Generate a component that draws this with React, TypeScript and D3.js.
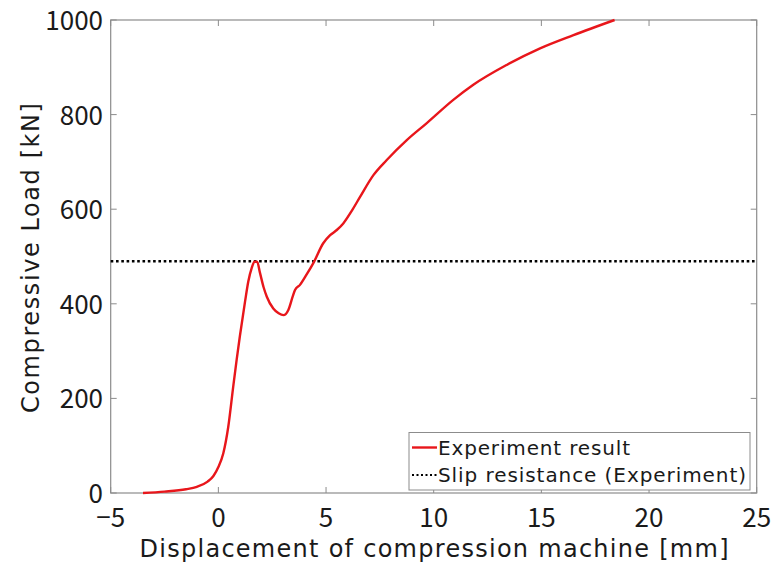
import React from "react";
import * as d3 from "d3";

// Load–displacement record of the compression test
const displacement = [
  -3.5, -2.5, -1.5, -1.0, -0.5, -0.23, 0, 0.23, 0.46, 0.69, 0.85, 1.0, 1.24, 1.39,
  1.55, 1.68, 1.8, 1.93, 2.1, 2.25, 2.55, 2.8, 3.02, 3.25, 3.45, 3.56, 3.79, 4.1,
  4.41, 4.87, 5.19, 5.5, 5.8, 6.2, 6.58, 7.2, 7.82, 8.75, 9.68, 10.91, 11.84,
  13.39, 14.94, 16.49, 18.4,
];
const load = [
  0, 3, 8, 13, 24, 36, 55, 84, 140, 225, 282, 332, 405, 447,
  476, 489, 489, 466, 435, 415, 390, 380, 376, 387, 415, 429, 440, 462,
  486, 528, 545, 556, 570, 597, 626, 672, 704, 746, 782, 831, 863,
  905, 940, 968, 1000,
];
const slipResistance = 490;

const xTicks = [-5, 0, 5, 10, 15, 20, 25];
const yTicks = [0, 200, 400, 600, 800, 1000];

const legendLabels = ["Experiment result", "Slip resistance (Experiment)"];
const xTitle = "Displacement of compression machine [mm]";
const yTitle = "Compressive Load [kN]";

const W = 775;
const H = 568;
const frame = { left: 110.7, right: 756.7, top: 20, bottom: 493 };
const TICK_FONT = "'Noto Sans CJK JP', 'Noto Sans', sans-serif";
const TEXT_FONT = "'DejaVu Sans', 'Noto Sans', sans-serif";
const AXIS = "#8c8c8c";
const INK = "#1a1a1a";
const RED = "#e8161b";

export default function App() {
  const x = d3.scaleLinear().domain([-5, 25]).range([frame.left, frame.right]);
  const y = d3.scaleLinear().domain([0, 1000]).range([frame.bottom, frame.top]);

  const pts = displacement.map((d, i) => [d, load[i]] as [number, number]);
  const line = d3
    .line<[number, number]>()
    .x((d) => x(d[0]))
    .y((d) => y(d[1]))
    .curve(d3.curveMonotoneX);

  const tickLen = 6;
  const lx = 409;
  const ly = 432.5;

  return (
    <svg
      width={W}
      height={H}
      style={{ position: "absolute", left: 0, top: 0, background: "#fff" }}
    >
      <rect x={0} y={0} width={W} height={H} fill="#fff" />

      {/* Ticks on all four sides, pointing inward */}
      {xTicks.map((t) => (
        <g key={"xt" + t}>
          <line x1={x(t)} x2={x(t)} y1={frame.bottom} y2={frame.bottom - tickLen} stroke={AXIS} />
          <line x1={x(t)} x2={x(t)} y1={frame.top} y2={frame.top + tickLen} stroke={AXIS} />
          <text
            x={x(t)}
            y={527}
            textAnchor="middle"
            fontFamily={TICK_FONT}
            fontSize={26}
            fill={INK}
          >
            {t < 0 ? "\u2212" + Math.abs(t) : t}
          </text>
        </g>
      ))}
      {yTicks.map((t) => (
        <g key={"yt" + t}>
          <line x1={frame.left} x2={frame.left + tickLen} y1={y(t)} y2={y(t)} stroke={AXIS} />
          <line x1={frame.right} x2={frame.right - tickLen} y1={y(t)} y2={y(t)} stroke={AXIS} />
          <text
            x={103}
            y={y(t) + 10}
            textAnchor="end"
            fontFamily={TICK_FONT}
            fontSize={26}
            fill={INK}
          >
            {t}
          </text>
        </g>
      ))}

      {/* Plot frame */}
      <rect
        x={frame.left}
        y={frame.top}
        width={frame.right - frame.left}
        height={frame.bottom - frame.top}
        fill="none"
        stroke={AXIS}
        strokeWidth={1.2}
      />

      {/* Slip resistance level */}
      <line
        x1={frame.left}
        x2={frame.right}
        y1={y(slipResistance)}
        y2={y(slipResistance)}
        stroke="#000"
        strokeWidth={2.6}
        strokeDasharray="2.6 2.7"
      />

      {/* Measured curve */}
      <path d={line(pts) ?? ""} fill="none" stroke={RED} strokeWidth={2.4} strokeLinejoin="round" />

      {/* Legend */}
      <rect x={lx} y={ly} width={750 - lx} height={57.5} fill="#fff" stroke={AXIS} strokeWidth={1} />
      <line x1={412} x2={437} y1={447.5} y2={447.5} stroke={RED} strokeWidth={2.4} />
      <text
        x={438}
        y={455}
        fontFamily={TEXT_FONT}
        fontSize={20}
        fill={INK}
        textLength={192}
        lengthAdjust="spacing"
      >
        {legendLabels[0]}
      </text>
      <line x1={412} x2={437} y1={475} y2={475} stroke="#000" strokeWidth={2.2} strokeDasharray="2 2.5" />
      <text
        x={438}
        y={482}
        fontFamily={TEXT_FONT}
        fontSize={20}
        fill={INK}
        textLength={308}
        lengthAdjust="spacing"
      >
        {legendLabels[1]}
      </text>

      {/* Axis titles */}
      <text
        x={434}
        y={557}
        textAnchor="middle"
        fontFamily={TEXT_FONT}
        fontSize={24}
        fill={INK}
        textLength={589}
        lengthAdjust="spacing"
      >
        {xTitle}
      </text>
      <text
        transform={`translate(39, 258) rotate(-90)`}
        textAnchor="middle"
        fontFamily={TEXT_FONT}
        fontSize={24}
        fill={INK}
        textLength={310}
        lengthAdjust="spacing"
      >
        {yTitle}
      </text>
    </svg>
  );
}
